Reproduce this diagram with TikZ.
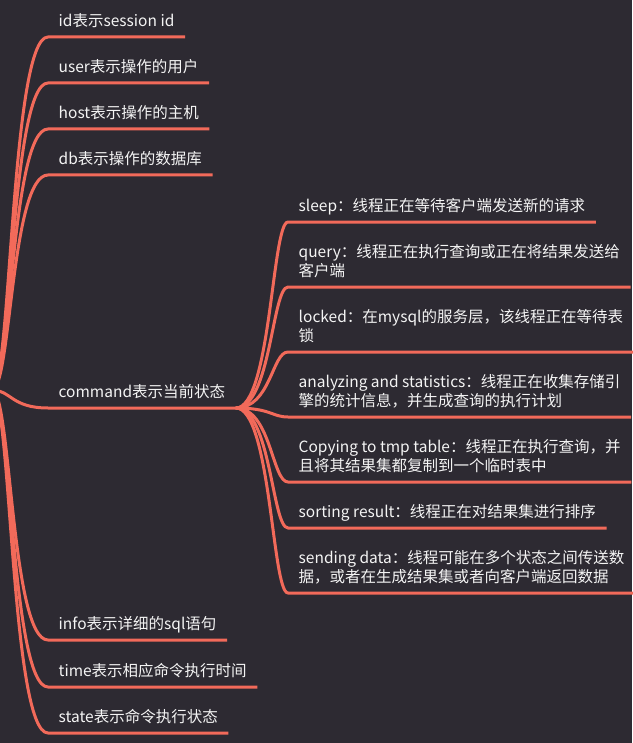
\documentclass[tikz,border=0pt]{standalone}
\usepackage{fontspec}
\setmainfont{Noto Sans CJK SC}
\usetikzlibrary{positioning}
\definecolor{mmbg}{HTML}{2D2A32}
\definecolor{mmline}{HTML}{F26A5A}
\definecolor{mmtext}{HTML}{F4F4F4}
\tikzset{topic/.style={anchor=south west,inner xsep=10.5pt,inner ysep=10.5pt,text depth=0pt,align=left,text=mmtext,font=\fontsize{15.5}{18.5}\selectfont}}
\tikzset{branch/.style={draw=mmline,line width=3pt,line join=round}}

\begin{document}
\begin{tikzpicture}[x=1pt,y=-1pt]
\fill[mmbg] (0,0) rectangle (632,743);
\useasboundingbox (0,0) rectangle (632,743);
\coordinate (root) at (-8,390);
%
\node (id) [topic] at (48,37) {id表示session id};
\node (user) [topic] at (48,83) {user表示操作的用户};
\node (host) [topic] at (48,129) {host表示操作的主机};
\node (db) [topic] at (48,175) {db表示操作的数据库};
\node (cmd) [topic] at (48,408) {command表示当前状态};
\node (info) [topic] at (48,640) {info表示详细的sql语句};
\node (time) [topic] at (48,687) {time表示相应命令执行时间};
\node (state) [topic] at (48,733) {state表示命令执行状态};
%
\node (sleep) [topic] at (288,222) {sleep：线程正在等待客户端发送新的请求};
\node (query) [topic] at (288,287) {query：线程正在执行查询或正在将结果发送给\\客户端};
\node (locked) [topic] at (288,352) {locked：在mysql的服务层，该线程正在等待表\\锁};
\node (stats) [topic] at (288,417) {analyzing and statistics：线程正在收集存储引\\擎的统计信息，并生成查询的执行计划};
\node (copy) [topic] at (288,482) {Copying to tmp table：线程正在执行查询，并\\且将其结果集都复制到一个临时表中};
\node (sort) [topic] at (288,528) {sorting result：线程正在对结果集进行排序};
\node (send) [topic] at (288,593) {sending data：线程可能在多个状态之间传送数\\据，或者在生成结果集或者向客户端返回数据};
%
\draw[branch] (root) .. controls +(19,0) and +(-37,0) .. (id.south west) -- (id.south east);
\draw[branch] (root) .. controls +(19,0) and +(-37,0) .. (user.south west) -- (user.south east);
\draw[branch] (root) .. controls +(19,0) and +(-37,0) .. (host.south west) -- (host.south east);
\draw[branch] (root) .. controls +(19,0) and +(-37,0) .. (db.south west) -- (db.south east);
\draw[branch] (root) .. controls +(19,0) and +(-37,0) .. (cmd.south west) -- (cmd.south east);
\draw[branch] (root) .. controls +(19,0) and +(-37,0) .. (info.south west) -- (info.south east);
\draw[branch] (root) .. controls +(19,0) and +(-37,0) .. (time.south west) -- (time.south east);
\draw[branch] (root) .. controls +(19,0) and +(-37,0) .. (state.south west) -- (state.south east);
%
\draw[branch] (cmd.south east) .. controls +(35,0) and +(-16,0) .. (sleep.south west) -- (sleep.south east);
\draw[branch] (cmd.south east) .. controls +(35,0) and +(-16,0) .. (query.south west) -- (query.south east);
\draw[branch] (cmd.south east) .. controls +(35,0) and +(-16,0) .. (locked.south west) -- (locked.south east);
\draw[branch] (cmd.south east) .. controls +(35,0) and +(-16,0) .. (stats.south west) -- (stats.south east);
\draw[branch] (cmd.south east) .. controls +(35,0) and +(-16,0) .. (copy.south west) -- (copy.south east);
\draw[branch] (cmd.south east) .. controls +(35,0) and +(-16,0) .. (sort.south west) -- (sort.south east);
\draw[branch] (cmd.south east) .. controls +(35,0) and +(-16,0) .. (send.south west) -- (send.south east);
\end{tikzpicture}
\end{document}
